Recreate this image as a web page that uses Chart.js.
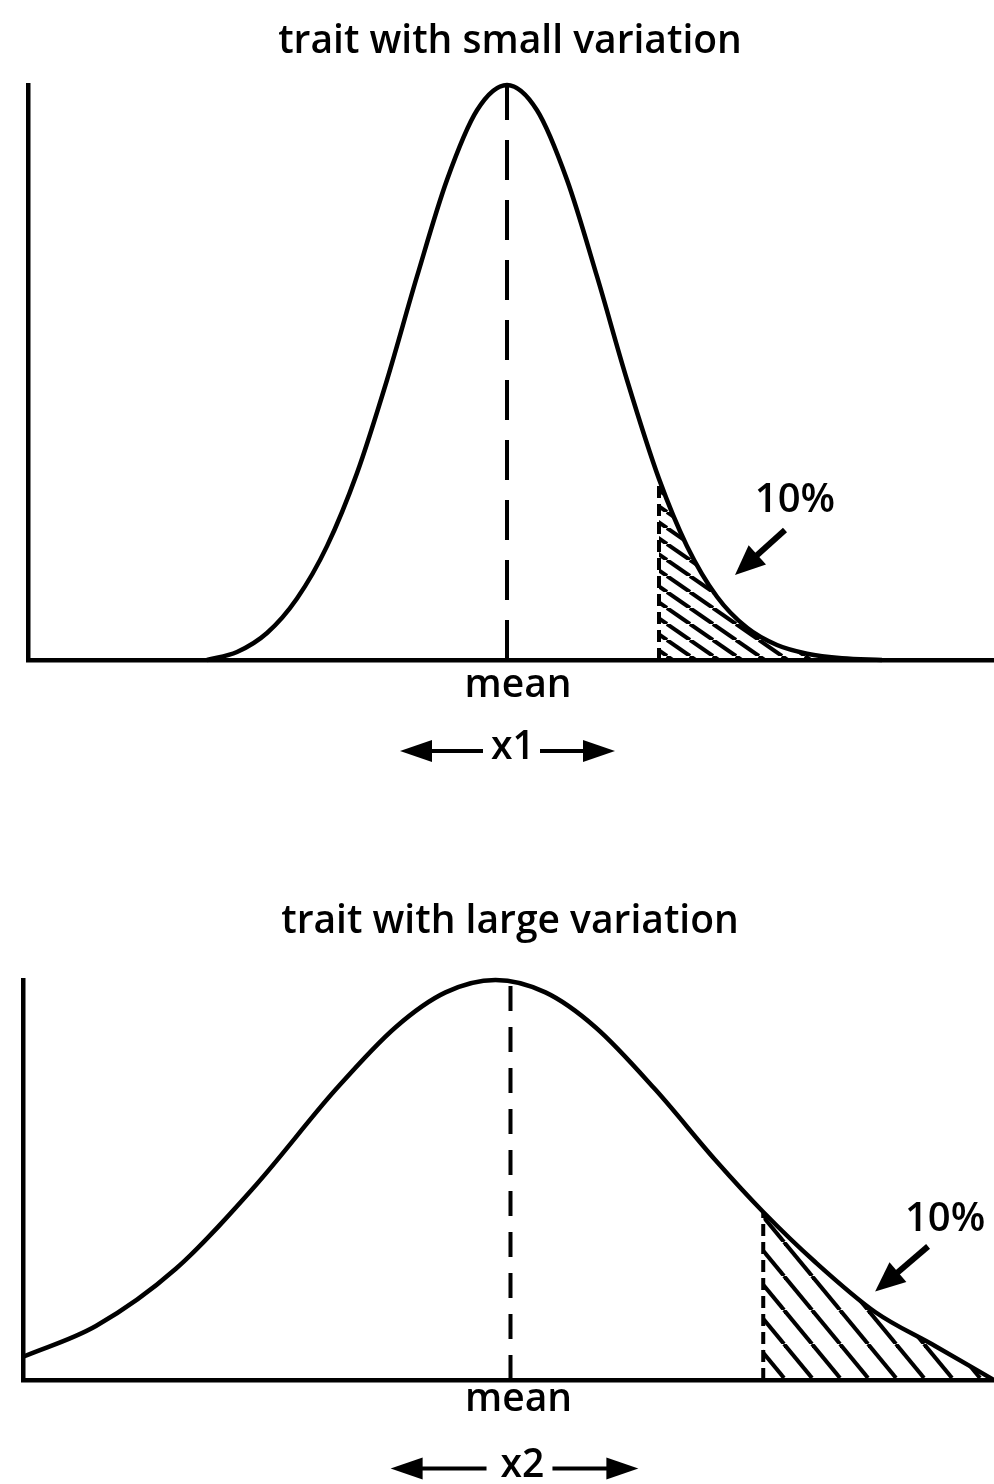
<!DOCTYPE html>
<html>
<head>
<meta charset="utf-8">
<script src="https://cdn.jsdelivr.net/npm/chart.js@4.4.1/dist/chart.umd.min.js"></script>
<style>
  body { margin: 0; background: #fff; }
  #wrap { position: relative; width: 994px; height: 1484px; }
  canvas { position: absolute; left: 0; }
</style>
</head>
<body>
<div id="wrap">
  <canvas id="chart-small" width="994" height="800" style="top:0px"></canvas>
  <canvas id="chart-large" width="994" height="684" style="top:800px"></canvas>
</div>
<script>
// trait values in standard-deviation units, heights relative to the peak
const smallX = [-3.0, -2.7, -2.4, -2.1, -1.8, -1.5, -1.2, -0.9, -0.6, -0.3, 0, 0.3, 0.6, 0.9, 1.2, 1.52, 1.8, 2.1, 2.4, 2.7, 3.0, 3.35, 3.75];
const smallY = [0.0, 0.014, 0.047, 0.107, 0.198, 0.325, 0.487, 0.667, 0.835, 0.956, 1.0, 0.956, 0.835, 0.667, 0.487, 0.315, 0.198, 0.11, 0.056, 0.026, 0.011, 0.003, 0.0];
const smallCut = 1.52;   // start of the top 10%
const smallMean = 0;

const largeX = [-2.365, -2.0, -1.6, -1.2, -0.8, -0.5, -0.25, 0, 0.25, 0.5, 0.8, 1.1, 1.34, 1.6, 1.9, 2.2, 2.495];
const largeY = [0.058, 0.135, 0.278, 0.487, 0.726, 0.882, 0.969, 1.0, 0.969, 0.882, 0.726, 0.55, 0.42, 0.295, 0.17, 0.085, 0.0];
const largeCut = 1.34;
const largeMean = 0.075;

const titles = ["trait with small variation", "trait with large variation"];
const spreadLabels = ["x1", "x2"];
const tailLabel = "10%";

const FONT = "'Open Sans', sans-serif";

function pts(xs, ys) {
  return xs.map((x, i) => ({x: x, y: ys[i]}));
}

function tailPts(xs, ys, cut) {
  return pts(xs, ys).filter(p => p.x >= cut - 1e-9);
}

function hatch(step, rise) {
  const c = document.createElement("canvas");
  c.width = step;
  c.height = rise;
  const g = c.getContext("2d");
  g.strokeStyle = "#000";
  g.lineWidth = 4;
  for (let k = -1; k <= 1; k++) {
    g.beginPath();
    g.moveTo(k * step, 0);
    g.lineTo(k * step + step, rise);
    g.stroke();
  }
  return g.createPattern(c, "repeat");
}

function arrowHead(ctx, x0, y0, x1, y1, len, half) {
  const a = Math.atan2(y1 - y0, x1 - x0);
  ctx.beginPath();
  ctx.moveTo(x1, y1);
  ctx.lineTo(x1 - len * Math.cos(a) + half * Math.sin(a), y1 - len * Math.sin(a) - half * Math.cos(a));
  ctx.lineTo(x1 - len * Math.cos(a) - half * Math.sin(a), y1 - len * Math.sin(a) + half * Math.cos(a));
  ctx.closePath();
  ctx.fill();
}

function arrow(ctx, x0, y0, x1, y1, len, half, w) {
  const a = Math.atan2(y1 - y0, x1 - x0);
  ctx.lineWidth = w;
  ctx.beginPath();
  ctx.moveTo(x0, y0);
  ctx.lineTo(x1 - (len - 2) * Math.cos(a), y1 - (len - 2) * Math.sin(a));
  ctx.stroke();
  arrowHead(ctx, x0, y0, x1, y1, len, half);
}

// text and arrows drawn from positions given in data units
function notes(cfg) {
  return {
    id: "notes",
    afterDraw(chart) {
      const ctx = chart.ctx;
      const sx = chart.scales.x, sy = chart.scales.y;
      const px = v => sx.getPixelForValue(v);
      const py = v => sy.getPixelForValue(v);
      ctx.save();
      ctx.fillStyle = "#000";
      ctx.strokeStyle = "#000";
      ctx.textAlign = "center";
      ctx.textBaseline = "middle";

      ctx.font = "600 39px " + FONT;
      ctx.fillText(cfg.title, 510, cfg.titleY);
      ctx.fillText("mean", px(cfg.meanText[0]), py(cfg.meanText[1]));
      ctx.font = "600 40px " + FONT;
      ctx.fillText(tailLabel, px(cfg.pctText[0]), py(cfg.pctText[1]));

      // arrow pointing at the shaded tail
      arrow(ctx, px(cfg.pctArrow[0]), py(cfg.pctArrow[1]), px(cfg.pctArrow[2]), py(cfg.pctArrow[3]), 30, 13, 6);

      // spread marker below the axis
      ctx.font = "600 39px " + FONT;
      const ry = py(cfg.spreadY);
      ctx.fillText(cfg.spread, px(cfg.spreadText), ry);
      arrow(ctx, px(cfg.spreadL[1]), ry + 3, px(cfg.spreadL[0]), ry + 3, 32, 11, 4);
      arrow(ctx, px(cfg.spreadR[0]), ry + 3, px(cfg.spreadR[1]), ry + 3, 32, 11, 4);
      ctx.restore();
    }
  };
}

function makeChart(id, xs, ys, cut, mean, xMin, xMax, pad, dash, pattern, cfg) {
  const cutY = ys[xs.indexOf(cut)];
  new Chart(document.getElementById(id).getContext("2d"), {
    type: "line",
    data: {
      datasets: [
        {
          data: pts(xs, ys),
          borderColor: "#000",
          borderWidth: 4.5,
          pointRadius: 0,
          cubicInterpolationMode: "monotone",
          fill: false,
          clip: false
        },
        {
          data: [{x: mean, y: 0}, {x: mean, y: 1}],
          borderColor: "#000",
          borderWidth: 4,
          borderDash: dash,
          pointRadius: 0,
          fill: false,
          clip: false
        },
        {
          data: [{x: cut, y: 0}, {x: cut, y: cutY}],
          borderColor: "#000",
          borderWidth: 4,
          borderDash: [12, 6],
          pointRadius: 0,
          fill: false
        },
        {
          data: tailPts(xs, ys, cut),
          borderWidth: 0,
          borderColor: "rgba(0,0,0,0)",
          backgroundColor: pattern,
          pointRadius: 0,
          cubicInterpolationMode: "monotone",
          fill: "origin"
        }
      ]
    },
    options: {
      responsive: false,
      animation: false,
      events: [],
      layout: { padding: pad },
      plugins: {
        legend: { display: false },
        tooltip: { enabled: false }
      },
      scales: {
        x: {
          type: "linear",
          min: xMin,
          max: xMax,
          grid: { display: false },
          ticks: { display: false },
          border: { display: true, color: "#000", width: 4.5 }
        },
        y: {
          min: 0,
          max: 1,
          grid: { display: false },
          ticks: { display: false },
          border: { display: true, color: "#000", width: 4.5 }
        }
      }
    },
    plugins: [notes(cfg)]
  });
}

makeChart("chart-small", smallX, smallY, smallCut, smallMean, -4.79, 4.87,
  {left: 20, right: 0, top: 85, bottom: 132}, [40, 20], hatch(23, 16), {
    title: titles[0], titleY: 42,
    meanText: [0.11, -0.045],
    pctText: [2.88, 0.278],
    pctArrow: [2.78, 0.226, 2.28, 0.148],
    spread: spreadLabels[0], spreadY: -0.153, spreadText: 0.06,
    spreadL: [-1.07, -0.24], spreadR: [0.33, 1.08]
  });

makeChart("chart-large", largeX, largeY, largeCut, largeMean, -2.365, 2.495,
  {left: 15, right: 0, top: 180, bottom: 96}, [25, 16], hatch(28, 34), {
    title: titles[1], titleY: 122,
    meanText: [0.115, -0.05],
    pctText: [2.25, 0.402],
    pctArrow: [2.165, 0.334, 1.9, 0.221],
    spread: spreadLabels[1], spreadY: -0.214, spreadText: 0.135,
    spreadL: [-0.525, -0.045], spreadR: [0.285, 0.715]
  });
</script>
</body>
</html>
